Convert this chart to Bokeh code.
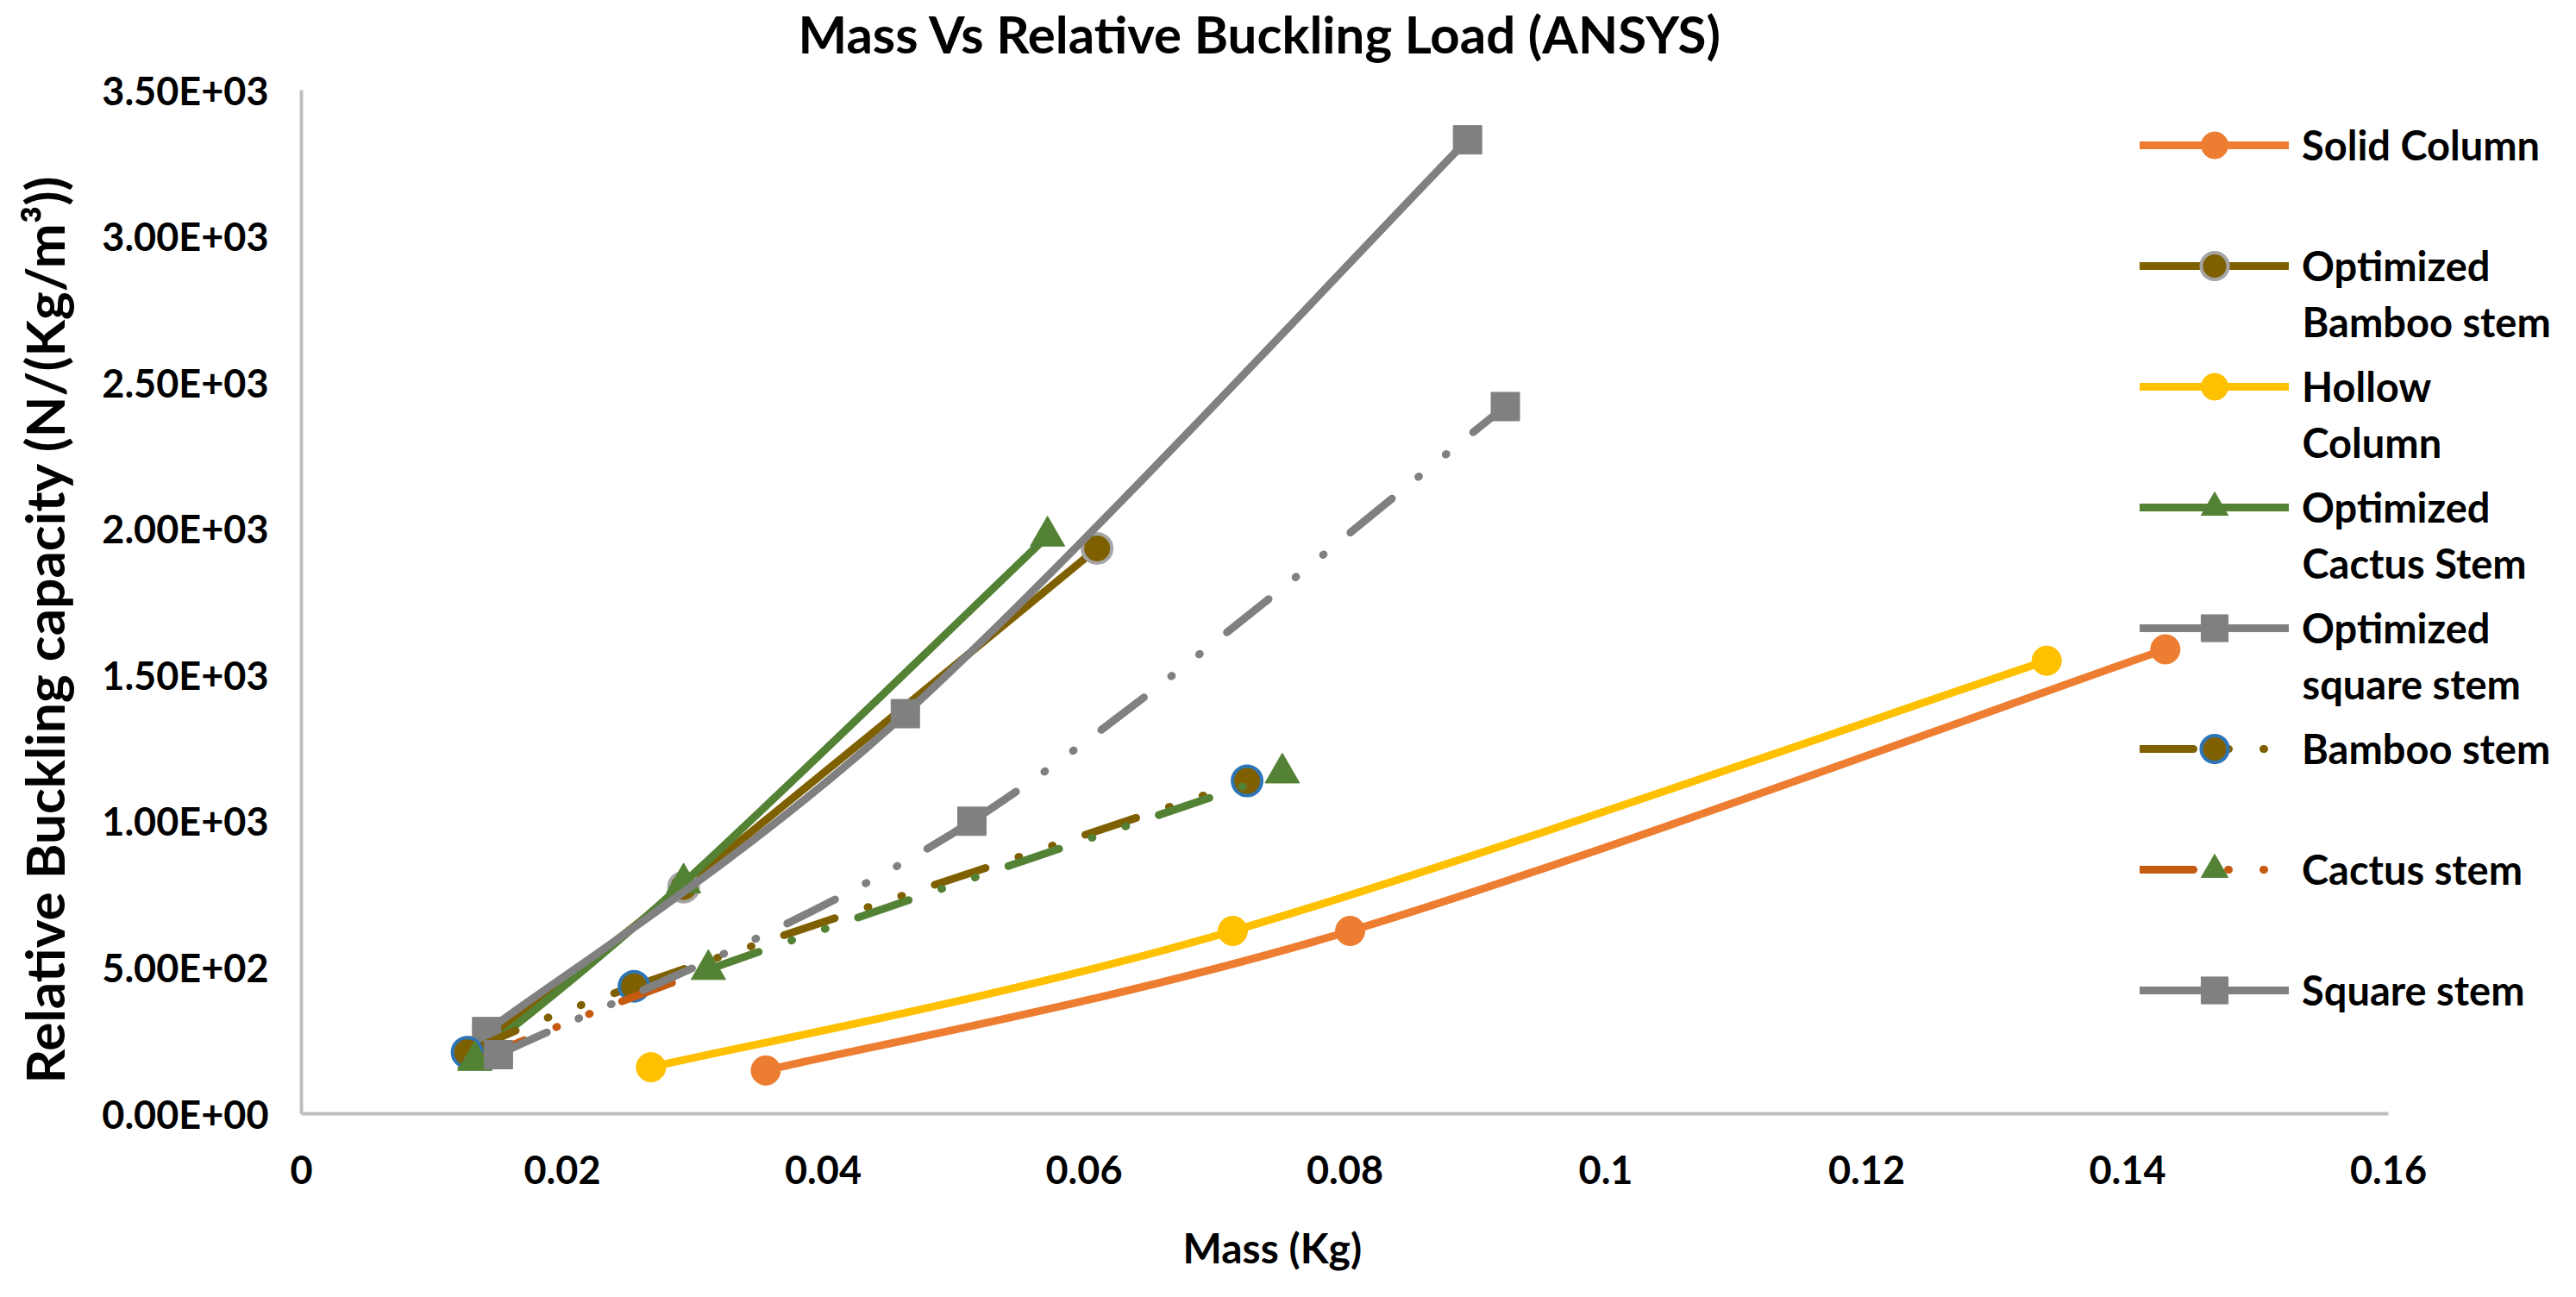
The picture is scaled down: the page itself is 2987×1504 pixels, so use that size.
from bokeh.plotting import figure
from bokeh.models import ColumnDataSource, FixedTicker, Label, Legend, LegendItem, Range1d, Title
from bokeh.embed import file_html
from bokeh.resources import INLINE

# values: mass (kg) vs relative buckling load (N/(kg/m^3))
solid_mass = [0.0356, 0.0804, 0.1429]
solid_load = [148, 625, 1588]

opt_bamboo_mass = [0.0129, 0.0293, 0.0610]
opt_bamboo_load = [210, 775, 1933]

hollow_mass = [0.0268, 0.0714, 0.1338]
hollow_load = [159, 625, 1549]

opt_cactus_mass = [0.0133, 0.0293, 0.0572]
opt_cactus_load = [190, 789, 1975]

opt_square_mass = [0.0142, 0.0463, 0.0894]
opt_square_load = [281, 1368, 3330]

bamboo_mass = [0.0127, 0.0255, 0.0725]
bamboo_load = [210, 436, 1138]

cactus_mass = [0.0133, 0.0312, 0.0752]
cactus_load = [182, 493, 1165]

square_mass = [0.0151, 0.0514, 0.0923]
square_load = [202, 1000, 2418]

x_ticks = [0, 0.02, 0.04, 0.06, 0.08, 0.1, 0.12, 0.14, 0.16]
x_tick_labels = ["0", "0.02", "0.04", "0.06", "0.08", "0.1", "0.12", "0.14", "0.16"]
y_ticks = [0, 500, 1000, 1500, 2000, 2500, 3000, 3500]
y_tick_labels = ["0.00E+00", "5.00E+02", "1.00E+03", "1.50E+03",
                 "2.00E+03", "2.50E+03", "3.00E+03", "3.50E+03"]

FONT = "Lato"
LDD = "62 40 1 40 1 40"   # long dash dot dot
LW = 9

W, H = 2971, 1488
LEFT, TOP, BOTTOM = 349, 102, 197
AXIS_W = 2420            # pixel length of the 0..0.16 axis
FRAME_W = W - LEFT       # frame runs to the right edge so the legend is not clipped


def smooth(xs, ys, colors=None):
    # Excel "smoothed line": Catmull-Rom segments turned into cubic beziers
    n = len(xs)
    px = [xs[0]] + list(xs) + [xs[-1]]
    py = [ys[0]] + list(ys) + [ys[-1]]
    d = dict(x0=[], y0=[], x1=[], y1=[], cx0=[], cy0=[], cx1=[], cy1=[])
    for i in range(1, n):
        d["x0"].append(px[i])
        d["y0"].append(py[i])
        d["x1"].append(px[i + 1])
        d["y1"].append(py[i + 1])
        d["cx0"].append(px[i] + (px[i + 1] - px[i - 1]) / 6)
        d["cy0"].append(py[i] + (py[i + 1] - py[i - 1]) / 6)
        d["cx1"].append(px[i + 1] - (px[i + 2] - px[i]) / 6)
        d["cy1"].append(py[i + 1] - (py[i + 2] - py[i]) / 6)
    if colors:
        d["color"] = colors
    return ColumnDataSource(d)


p = figure(
    width=W, height=H,
    x_range=Range1d(0, x_ticks[-1] * FRAME_W / AXIS_W), y_range=Range1d(0, y_ticks[-1]),
    output_backend="svg", toolbar_location=None,
    min_border_left=LEFT, min_border_right=0,
    min_border_top=TOP, min_border_bottom=BOTTOM,
)
p.xgrid.visible = False
p.ygrid.visible = False
p.outline_line_color = None

p.title.text = "Mass Vs Relative Buckling Load (ANSYS)"
p.title.align = "left"
p.title.offset = 576
p.title.standoff = 0
p.title.padding = dict(left=0, right=0, top=0, bottom=30)
p.title.text_font = FONT
p.title.text_font_style = "bold"
p.title.text_font_size = "60px"
p.title.text_color = "black"

p.add_layout(Title(text="Mass (Kg)", align="left", offset=1022, standoff=0,
                   padding=dict(left=0, right=0, top=40, bottom=0),
                   text_font=FONT, text_font_style="bold", text_font_size="48px",
                   text_color="black"), "below")
p.add_layout(Title(text="Relative Buckling capacity (N/(Kg/m³))", align="left",
                   offset=35, standoff=0, padding=dict(left=0, right=0, top=0, bottom=28),
                   text_font=FONT, text_font_style="bold",
                   text_font_size="62px", text_color="black"), "left")

for ax, ticks, labels in ((p.xaxis, x_ticks, x_tick_labels), (p.yaxis, y_ticks, y_tick_labels)):
    ax.ticker = FixedTicker(ticks=ticks)
    ax.major_label_overrides = dict(zip(ticks, labels))
    ax.bounds = (ticks[0], ticks[-1])
    ax.major_tick_line_color = None
    ax.minor_tick_line_color = None
    ax.axis_line_color = "#BFBFBF"
    ax.axis_line_width = 4
    ax.major_label_text_font = FONT
    ax.major_label_text_font_style = "bold"
    ax.major_label_text_font_size = "45px"
    ax.major_label_text_color = "black"
p.xaxis.major_label_standoff = 42
p.yaxis.major_label_standoff = 32

bez = dict(x0="x0", y0="y0", x1="x1", y1="y1", cx0="cx0", cy0="cy0", cx1="cx1", cy1="cy1")

series = [
    # first label line, second line, xs, ys, line colour, dash, marker, fill, outline
    ("Solid Column", "", solid_mass, solid_load, "#ED7D31", "solid", "circle", "#ED7D31", "#ED7D31"),
    ("Optimized", "Bamboo stem", opt_bamboo_mass, opt_bamboo_load, "#7F6000", "solid", "circle", "#7F6000", "#A5A5A5"),
    ("Hollow", "Column", hollow_mass, hollow_load, "#FFC000", "solid", "circle", "#FFC000", "#FFC000"),
    ("Optimized", "Cactus Stem", opt_cactus_mass, opt_cactus_load, "#548235", "solid", "triangle", "#548235", "#548235"),
    ("Optimized", "square stem", opt_square_mass, opt_square_load, "#808080", "solid", "square", "#808080", "#808080"),
    ("Bamboo stem", "", bamboo_mass, bamboo_load, "#7F6000", LDD, "circle", "#7F6000", "#2E75B6"),
    ("Cactus stem", "", cactus_mass, cactus_load, "#C55A11", LDD, "triangle", "#548235", "#548235"),
    ("Square stem", "", square_mass, square_load, "#808080", LDD, "square", "#808080", "#808080"),
]
marker_size = {"circle": 34, "triangle": 40, "square": 33}

ROW0, PITCH, LINE2 = 168, 140, 64     # legend rows, canvas px from the top
GLYPH_X = 2132                         # legend glyph start, px from frame left
GLYPH_W, GLYPH_H = 173, 78
TEXT_X = GLYPH_X + GLYPH_W + 15
LEG_FONT = "47px"

items = []
for k, (label, label2, xs, ys, lc, dash, marker, fill, edge) in enumerate(series):
    if label == "Cactus stem":
        # first segment brown, the rest green, as formatted in the source chart
        src = smooth(xs, ys, ["#C55A11", "#548235"])
        p.bezier(source=src, line_color="color", line_width=LW, line_dash=dash,
                 line_cap="round", **bez)
    else:
        p.bezier(source=smooth(xs, ys), line_color=lc, line_width=LW, line_dash=dash,
                 line_cap="round", **bez)
    pts = p.scatter(xs, ys, marker=marker, size=marker_size[marker],
                    fill_color=fill, line_color=edge, line_width=4 if edge != fill else 1)
    proxy_dash = "solid" if label == "Square stem" else dash
    proxy = p.line(x=xs[:1], y=ys[:1], line_color=lc, line_width=LW, line_dash=proxy_dash,
                   line_cap="round")
    items.append(LegendItem(label=label, renderers=[proxy, pts]))
    if label2:
        p.add_layout(Label(x=TEXT_X, y=H - BOTTOM - (ROW0 + PITCH * k + LINE2),
                           x_units="screen", y_units="screen", text=label2,
                           text_baseline="middle", text_font=FONT, text_font_style="bold",
                           text_font_size=LEG_FONT, text_color="black"))

legend_h = 8 * GLYPH_H + 7 * (PITCH - GLYPH_H)
legend = Legend(
    items=items, location=(GLYPH_X, H - BOTTOM - (ROW0 - GLYPH_H // 2) - legend_h),
    padding=0, margin=0, spacing=PITCH - GLYPH_H,
    glyph_width=GLYPH_W, glyph_height=GLYPH_H, label_height=54, label_standoff=15,
    label_text_font=FONT, label_text_font_style="bold", label_text_font_size=LEG_FONT,
    label_text_color="black", border_line_color=None, background_fill_alpha=0,
)
p.add_layout(legend)

open("out.html", "w").write(file_html(p, INLINE))
